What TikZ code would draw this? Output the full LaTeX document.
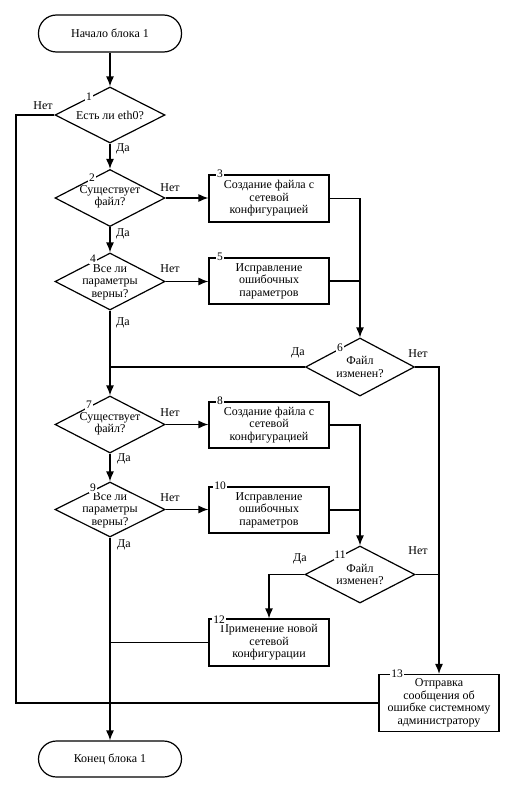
\documentclass[tikz,border=0pt]{standalone}
\usepackage{fontspec}
\setmainfont{Liberation Serif}
\usetikzlibrary{shapes.geometric,arrows.meta}
\begin{document}
\begin{tikzpicture}[x=1pt,y=-1pt,
  line/.style={line width=1.2pt},
  arr/.style={line, -{Latex[length=10pt,width=8pt]}},
  term/.style={draw, line width=1.2pt, rounded corners=18pt, minimum width=143pt, minimum height=37pt, inner sep=0pt, font=\fontsize{12pt}{12.5pt}\selectfont},
  dec/.style={draw, line width=1.2pt, diamond, minimum width=110pt, minimum height=57pt, inner sep=0pt},
  proc/.style={draw, line width=1.2pt, rectangle, minimum width=120pt, minimum height=47pt, inner sep=0pt, align=center, font=\fontsize{12pt}{12.5pt}\selectfont},
  txt/.style={align=center, inner sep=0pt, font=\fontsize{12pt}{12.5pt}\selectfont},
  num/.style={fill=white, inner sep=0.8pt, font=\fontsize{11.5pt}{12pt}\selectfont},
  lbl/.style={inner sep=0pt, font=\fontsize{12pt}{12.5pt}\selectfont}]
\useasboundingbox (0,0) rectangle (513,792);

% shapes
\node[term] (start) at (110,33.5) {Начало блока 1};
\node[dec, minimum height=56pt] (d1) at (110,115) {};
\node[txt] (d1t) at (d1) {Есть ли eth0?};
\node[dec] (d2) at (110,198) {};
\node[txt] (d2t) at (110,197) {Существует\\файл?};
\node[proc] (b3) at (269,198.5) {Создание файла с\\сетевой\\конфигурацией};
\node[dec] (d4) at (110,281.5) {};
\node[txt] (d4t) at (110,282) {Все ли\\параметры\\верны?};
\node[proc, minimum height=46pt] (b5) at (269,281) {Исправление\\ошибочных\\параметров};
\node[dec, minimum width=109pt, minimum height=58pt] (d6) at (360,367) {};
\node[txt] (d6t) at (360,367) {Файл\\изменен?};
\node[dec] (d7) at (110,424.5) {};
\node[txt] (d7t) at (110,424) {Существует\\файл?};
\node[proc, minimum height=46pt] (b8) at (269,425) {Создание файла с\\сетевой\\конфигурацией};
\node[dec, minimum height=55pt] (d9) at (110,509.5) {};
\node[txt] (d9t) at (110,510) {Все ли\\параметры\\верны?};
\node[proc, minimum height=46pt] (b10) at (269,510) {Исправление\\ошибочных\\параметров};
\node[dec] (d11) at (360,574.5) {};
\node[txt] (d11t) at (360,574.5) {Файл\\изменен?};
\node[proc] (b12) at (269,642.5) {Применение новой\\сетевой\\конфигурации};
\node[proc, minimum height=57pt] (b13) at (439,703) {Отправка\\сообщения об\\ошибке системному\\администратору};
\node[term, minimum height=36pt] (end) at (110,759) {Конец блока 1};

% junction coordinates
\coordinate (c3) at (360,198.5);
\coordinate (c5) at (360,281);
\coordinate (c6l) at (110,367);
\coordinate (c6r) at (439,367);
\coordinate (c8) at (360,425);
\coordinate (c10) at (360,510);
\coordinate (c11l) at (269,574.5);
\coordinate (c11r) at (439,574.5);
\coordinate (c12) at (110,642.5);
\coordinate (c1a) at (16,115);
\coordinate (c1b) at (16,703);
\coordinate (c13) at (110,703);

% connectors
\draw[arr] (start.south) -- (d1.north);
\draw[arr] (d1.south) -- (d2.north);
\draw[arr] (d2.east) -- (d2.east -| b3.west);
\draw[arr] (d2.south) -- (d4.north);
\draw[arr] (d4.east) -- (d4.east -| b5.west);
\draw[arr] (b3.east) -- (c3) -- (d6.north);
\draw[line] (b5.east) -- (c5);
\draw[arr] (d4.south) -- (d7.north);
\draw[line] (d6.west) -- (c6l);
\draw[arr] (d6.east) -- (c6r) -- (b13.north);
\draw[arr] (d7.east) -- (d7.east -| b8.west);
\draw[arr] (d7.south) -- (d9.north);
\draw[arr] (d9.east) -- (d9.east -| b10.west);
\draw[arr] (b8.east) -- (c8) -- (d11.north);
\draw[line] (b10.east) -- (c10);
\draw[arr] (d11.west) -- (c11l) -- (b12.north);
\draw[line] (d11.east) -- (c11r);
\draw[arr] (d9.south) -- (end.north);
\draw[line] (b12.west) -- (c12);
\draw[line] (d1.west) -- (c1a) -- (c1b) -- (c13);
\draw[line] (b13.west) -- (c13);

% branch labels
\node[lbl] (l1n) at (43,106) {Нет};
\node[lbl] (l1d) at (123,149) {Да};
\node[lbl] (l2n) at (170,188) {Нет};
\node[lbl] (l2d) at (123,234) {Да};
\node[lbl] (l4n) at (170,269) {Нет};
\node[lbl] (l4d) at (123,323) {Да};
\node[lbl] (l6d) at (298,353) {Да};
\node[lbl] (l6n) at (418,354) {Нет};
\node[lbl] (l7n) at (170,413) {Нет};
\node[lbl] (l7d) at (124,459) {Да};
\node[lbl] (l9n) at (170,498) {Нет};
\node[lbl] (l9d) at (124,545) {Да};
\node[lbl] (l11d) at (300,559) {Да};
\node[lbl] (l11n) at (418,551) {Нет};

% numbers
\node[num] (n1) at (89,97) {1};
\node[num] (n2) at (92,178) {2};
\node[num] (n3) at (220,174) {3};
\node[num] (n4) at (93,259) {4};
\node[num] (n5) at (220,257) {5};
\node[num] (n6) at (340,348) {6};
\node[num] (n7) at (89,405) {7};
\node[num] (n8) at (220,401) {8};
\node[num] (n9) at (93,488) {9};
\node[num] (n10) at (220,486) {10};
\node[num] (n11) at (340,555) {11};
\node[num] (n12) at (219,620) {12};
\node[num] (n13) at (397,674) {13};
\end{tikzpicture}
\end{document}
